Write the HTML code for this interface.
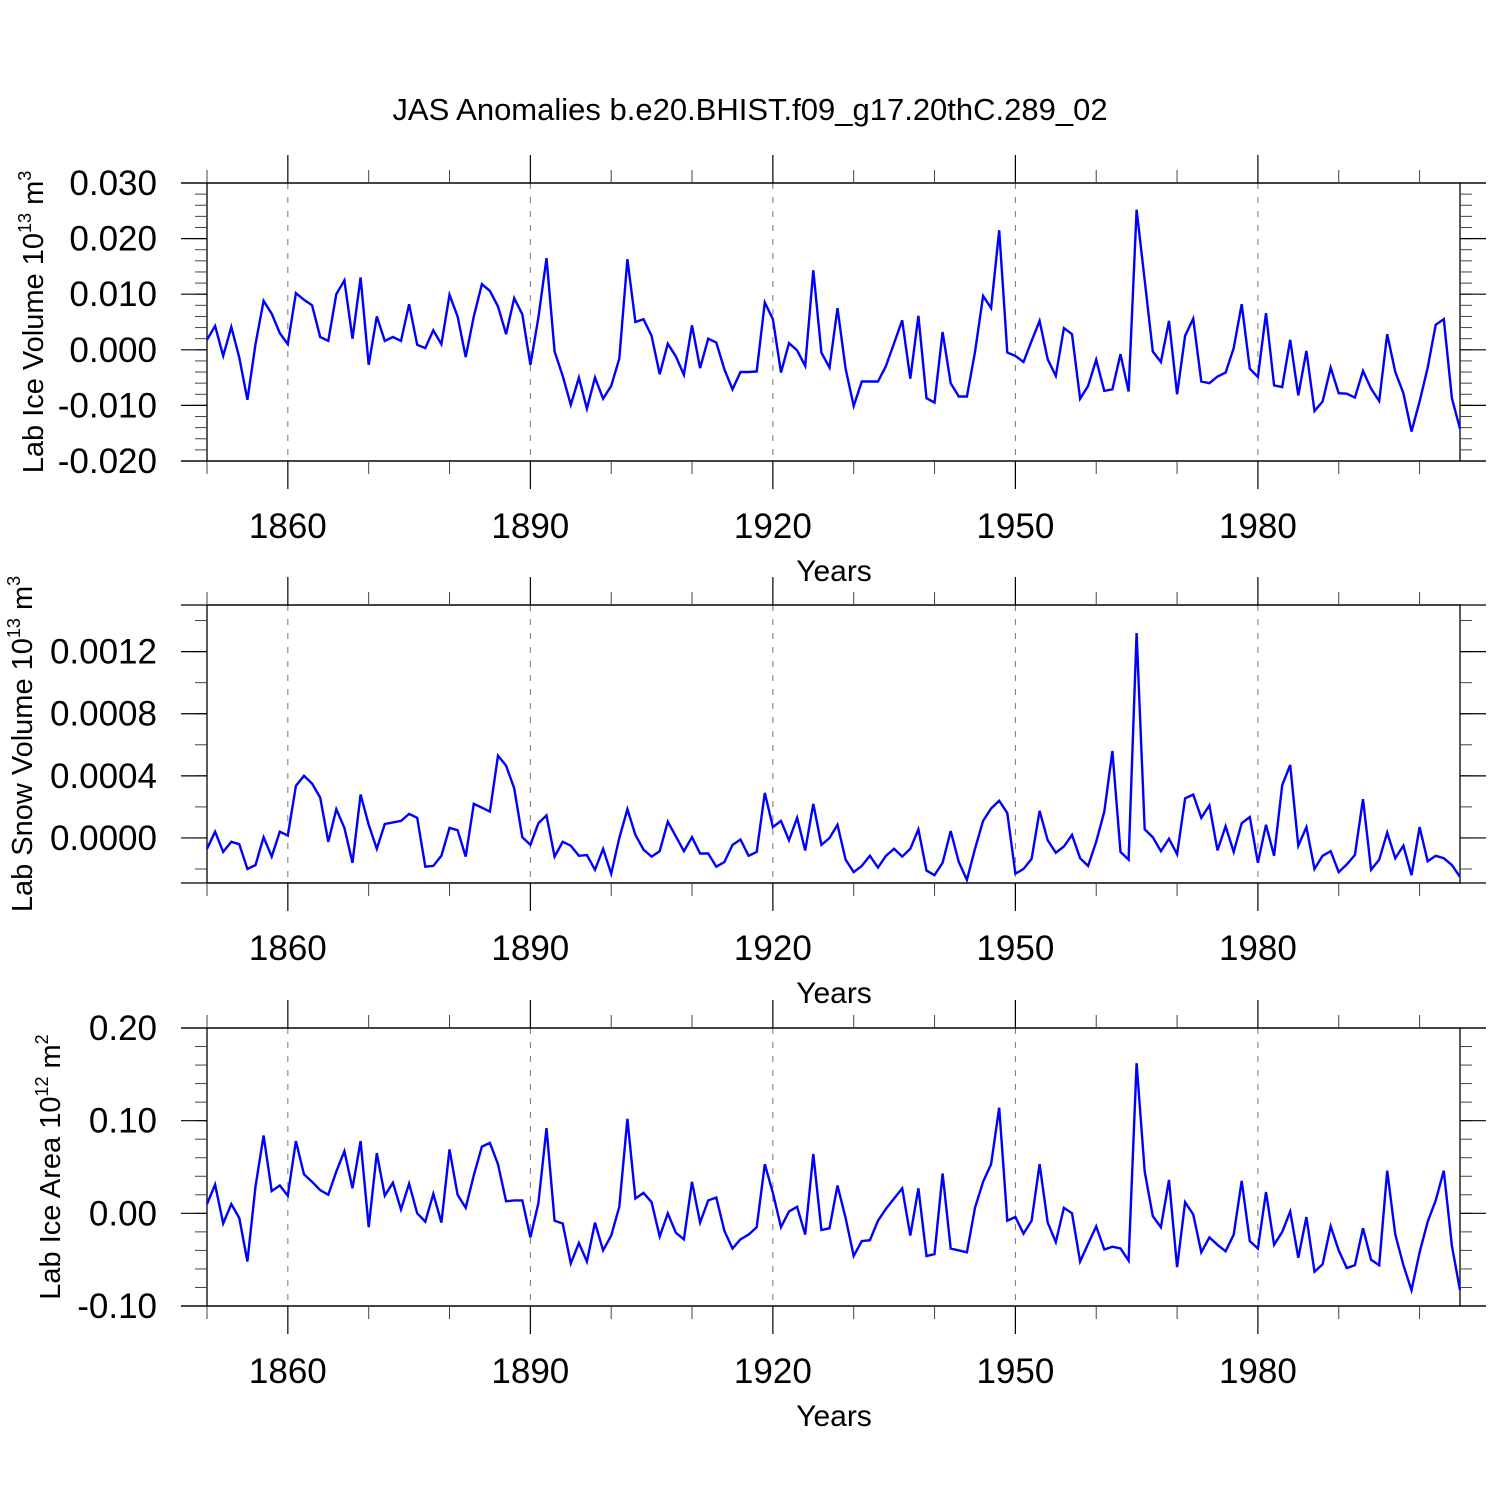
<!DOCTYPE html>
<html><head><meta charset="utf-8"><style>
html,body{margin:0;padding:0;background:#fff;}
svg text{font-family:"Liberation Sans",Arial,sans-serif;fill:#000;}
</style></head><body>
<svg id="chart" xmlns="http://www.w3.org/2000/svg" width="1500" height="1500" viewBox="0 0 1500 1500">
<text x="750" y="120" font-size="31" text-anchor="middle">JAS Anomalies b.e20.BHIST.f09_g17.20thC.289_02</text>
</svg>
<script>
const years = [];
for (let y = 1850; y <= 2005; y++) years.push(y);
const iceVolume = [0.0018,0.0043,-0.0011,0.0041,-0.0014,-0.009,0.001,0.0088,0.0065,0.003,
0.001,0.0102,0.009,0.008,0.0023,0.0016,0.0100,0.0125,0.002,0.013,
-0.0027,0.006,0.0016,0.0023,0.0016,0.0082,0.0009,0.0003,0.0035,0.001,
0.0099,0.006,-0.0013,0.006,0.0118,0.0106,0.0078,0.0028,0.0093,0.0064,
-0.0027,0.0058,0.0165,-0.0003,-0.0047,-0.0099,-0.005,-0.0106,-0.005,-0.0088,
-0.0065,-0.0016,0.0163,0.005,0.0055,0.0025,-0.0044,0.0011,-0.0012,-0.0045,
0.0044,-0.0033,0.002,0.0013,-0.0035,-0.0071,-0.004,-0.004,-0.0039,0.0085,
0.0055,-0.0041,0.0012,-0.0001,-0.0029,0.0143,-0.0005,-0.0032,0.0075,-0.0034,
-0.0101,-0.0057,-0.0057,-0.0057,-0.0029,0.0012,0.0053,-0.0052,0.0061,-0.0087,
-0.0095,0.0032,-0.006,-0.0084,-0.0084,-0.0004,0.0097,0.0075,0.0215,-0.0005,
-0.0011,-0.0022,0.0016,0.0052,-0.0017,-0.0047,0.0039,0.0028,-0.0088,-0.0065,
-0.0018,-0.0074,-0.0071,-0.0008,-0.0075,0.0252,0.0125,-0.0003,-0.0022,0.0052,
-0.008,0.0025,0.0056,-0.0057,-0.006,-0.0048,-0.0041,0.0003,0.0082,-0.0034,
-0.0049,0.0066,-0.0064,-0.0067,0.0018,-0.0082,-0.0002,-0.011,-0.0093,-0.0032,
-0.0078,-0.0079,-0.0086,-0.0038,-0.007,-0.0092,0.0028,-0.004,-0.0078,-0.0147,
-0.0093,-0.0032,0.0045,0.0055,-0.0087,-0.0142];
const snowVolumeE4 = [-0.7,0.4,-0.9,-0.25,-0.4,-2.0,-1.75,0.05,-1.2,0.4,
0.15,3.35,4.0,3.5,2.6,-0.25,1.85,0.65,-1.6,2.8,
0.85,-0.7,0.9,1.0,1.1,1.55,1.3,-1.85,-1.8,-1.15,
0.65,0.5,-1.2,2.2,1.95,1.7,5.3,4.65,3.2,0.05,
-0.45,0.95,1.45,-1.2,-0.25,-0.5,-1.15,-1.1,-2.05,-0.7,
-2.3,0,1.85,0.2,-0.75,-1.2,-0.85,1.05,0.1,-0.85,
0.05,-1.0,-1.0,-1.85,-1.55,-0.45,-0.1,-1.15,-0.9,2.9,
0.7,1.1,-0.15,1.3,-0.8,2.2,-0.45,0,0.85,-1.4,
-2.2,-1.8,-1.15,-1.9,-1.15,-0.7,-1.2,-0.7,0.55,-2.1,
-2.4,-1.6,0.45,-1.55,-2.7,-0.7,1.1,1.9,2.4,1.6,
-2.3,-2.0,-1.35,1.75,-0.15,-0.95,-0.55,0.2,-1.3,-1.8,
-0.25,1.7,5.6,-0.9,-1.4,13.2,0.55,0.05,-0.85,-0.05,
-1.05,2.55,2.8,1.3,2.1,-0.8,0.75,-0.9,0.95,1.35,
-1.6,0.85,-1.15,3.4,4.7,-0.5,0.7,-2.0,-1.15,-0.85,
-2.2,-1.7,-1.1,2.5,-2.05,-1.4,0.35,-1.3,-0.5,-2.4,
0.7,-1.5,-1.15,-1.3,-1.75,-2.5];
const iceAreaE2 = [1.0,3.1,-1.1,1.0,-0.5,-5.2,2.9,8.4,2.4,3.0,
1.9,7.8,4.2,3.4,2.5,2.0,4.5,6.7,2.7,7.8,
-1.5,6.5,1.9,3.3,0.4,3.2,0,-0.9,2.1,-1.0,
6.9,2.0,0.6,4.1,7.2,7.6,5.3,1.3,1.4,1.4,
-2.6,1.1,9.2,-0.8,-1.1,-5.4,-3.2,-5.2,-1.0,-4.0,
-2.4,0.7,10.2,1.6,2.2,1.2,-2.5,0,-2.1,-2.8,
3.4,-1.0,1.4,1.7,-1.9,-3.8,-2.8,-2.3,-1.5,5.3,
2.2,-1.5,0.2,0.7,-2.3,6.4,-1.8,-1.6,3.0,-0.5,
-4.6,-3.0,-2.9,-0.8,0.5,1.6,2.7,-2.4,2.7,-4.6,
-4.4,4.3,-3.8,-4.0,-4.2,0.6,3.4,5.3,11.4,-0.8,
-0.4,-2.2,-0.8,5.3,-1.0,-3.1,0.6,0,-5.2,-3.3,
-1.4,-3.9,-3.6,-3.8,-5.1,16.2,4.5,-0.3,-1.5,3.6,
-5.8,1.2,-0.1,-4.2,-2.6,-3.4,-4.1,-2.3,3.5,-3.0,
-3.8,2.3,-3.4,-2.0,0.2,-4.8,-0.4,-6.3,-5.5,-1.4,
-4.0,-5.9,-5.6,-1.6,-5.0,-5.6,4.6,-2.3,-5.6,-8.3,
-4.2,-0.9,1.4,4.6,-3.5,-8.3];
const xMajorTicks = [1860,1890,1920,1950,1980];
const xMinorTicks = [1850,1870,1880,1900,1910,1930,1940,1960,1970,1990,2000];
const p1Labels = ["-0.020","-0.010","0.000","0.010","0.020","0.030"];
const p2Labels = ["0.0000","0.0004","0.0008","0.0012"];
const p3Labels = ["-0.10","0.00","0.10","0.20"];

const NS = "http://www.w3.org/2000/svg";
const svg = document.getElementById('chart');
const X0 = 207, X1 = 1460, YR0 = 1850, YR1 = 2005;
function xs(yr){ return X0 + (yr - YR0) * (X1 - X0) / (YR1 - YR0); }
function mk(tag, attrs){ const e = document.createElementNS(NS, tag); for (const k in attrs) e.setAttribute(k, attrs[k]); svg.appendChild(e); return e; }
function line(x1,y1,x2,y2,stroke,w,dash){ const e = mk('line',{x1:x1,y1:y1,x2:x2,y2:y2,stroke:stroke,'stroke-width':w}); if(dash) e.setAttribute('stroke-dasharray',dash); return e; }

const panels = [
 {name:'ice-volume', top:183, bot:461, ymin:-0.020, ymax:0.030, values:iceVolume, scale:1, majors:[-0.02,-0.01,0,0.01,0.02,0.03], labels:p1Labels, minorStep:0.002, title:'Lab Ice Volume 10', sup1:'13', unit:' m', sup2:'3', tx:43},
 {name:'snow-volume', top:605, bot:883, ymin:-0.00029, ymax:0.0015, values:snowVolumeE4, scale:1e-4, majors:[0,0.0004,0.0008,0.0012], labels:p2Labels, minorStep:0.0002, title:'Lab Snow Volume 10', sup1:'13', unit:' m', sup2:'3', tx:32},
 {name:'ice-area', top:1028, bot:1306, ymin:-0.10, ymax:0.20, values:iceAreaE2, scale:1e-2, majors:[-0.1,0,0.1,0.2], labels:p3Labels, minorStep:0.02, title:'Lab Ice Area 10', sup1:'12', unit:' m', sup2:'2', tx:60}
];

panels.forEach(p => {
  const ys = v => p.bot - (v - p.ymin) * (p.bot - p.top) / (p.ymax - p.ymin);
  xMajorTicks.forEach(yr => {
    const g = line(xs(yr), p.top, xs(yr), p.bot, '#777', 1, '6,8');
    
    
  });
  const f = mk('rect',{x:X0,y:p.top,width:X1-X0,height:p.bot-p.top,fill:'none',stroke:'#000','stroke-width':1.3});
  
  
  line(181,p.top,1486,p.top,'#000',1.3);
  line(181,p.bot,1486,p.bot,'#000',1.3);
  xMajorTicks.forEach(yr => {
    line(xs(yr),p.top,xs(yr),p.top-28,'#000',1.2);
    line(xs(yr),p.bot,xs(yr),p.bot+28,'#000',1.2);
    const t = mk('text',{x:xs(yr),y:p.bot+77,'font-size':35,'text-anchor':'middle'});
    t.textContent = yr;
    
    
  });
  xMinorTicks.forEach(yr => {
    line(xs(yr),p.top,xs(yr),p.top-13,'#444',1);
    line(xs(yr),p.bot,xs(yr),p.bot+13,'#444',1);
  });
  for (let v = Math.ceil(p.ymin/p.minorStep)*p.minorStep; v <= p.ymax + 1e-12; v += p.minorStep) {
    const y = ys(v);
    line(X0-12,y,X0,y,'#444',1);
    line(X1,y,X1+12,y,'#444',1);
  }
  p.majors.forEach((v,i) => {
    const y = ys(v);
    line(181,y,X0,y,'#000',1.2);
    line(X1,y,1486,y,'#000',1.2);
    const t = mk('text',{x:157,y:y+12,'font-size':35,'text-anchor':'end'});
    t.textContent = p.labels[i];
    
    
  });
  const xt = mk('text',{x:834,y:p.bot+120,'font-size':30,'text-anchor':'middle'});
  xt.textContent = 'Years';
  
  
  const cy = (p.top + p.bot)/2;
  const yt = mk('text',{x:0,y:0,'font-size':29,'text-anchor':'middle',transform:`translate(${p.tx},${cy}) rotate(-90)`});
  
  
  const a = document.createElementNS(NS,'tspan'); a.textContent = p.title; yt.appendChild(a);
  const b = document.createElementNS(NS,'tspan'); b.setAttribute('dy','-12'); b.setAttribute('font-size','18'); b.textContent = p.sup1; yt.appendChild(b);
  const c = document.createElementNS(NS,'tspan'); c.setAttribute('dy','12'); c.textContent = p.unit; yt.appendChild(c);
  const d = document.createElementNS(NS,'tspan'); d.setAttribute('dy','-12'); d.setAttribute('font-size','18'); d.textContent = p.sup2; yt.appendChild(d);
  const pts = p.values.map((v,i) => xs(years[i]).toFixed(1) + ',' + ys(v * p.scale).toFixed(1)).join(' ');
  const pl = mk('polyline',{points:pts,fill:'none',stroke:'#0000ff','stroke-width':2.4,'stroke-linejoin':'miter'});
  
  
});
</script>
</body></html>
